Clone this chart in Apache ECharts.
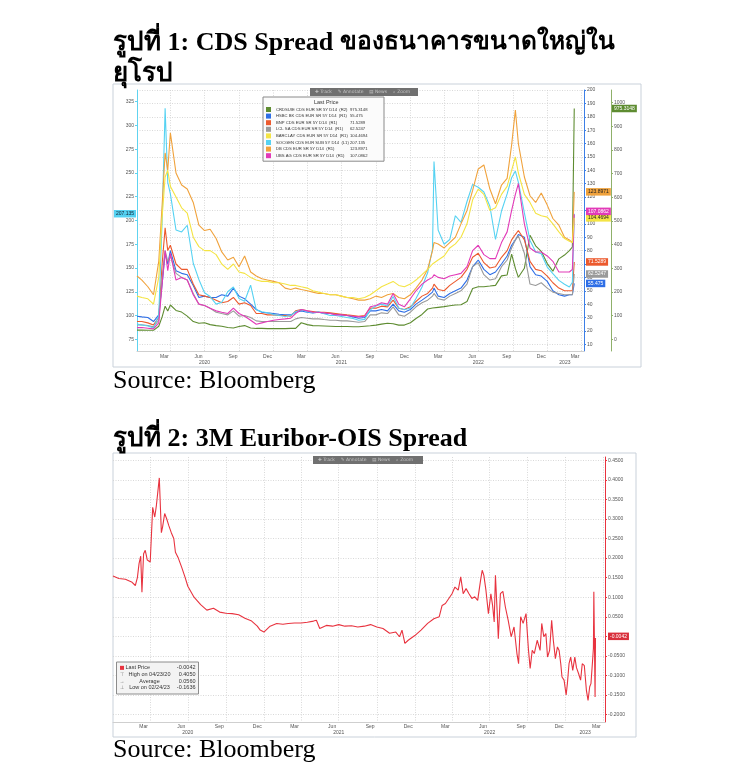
<!DOCTYPE html>
<html><head><meta charset="utf-8">
<script src="https://cdn.jsdelivr.net/npm/echarts@6/dist/echarts.min.js"></script>
<style>html,body{margin:0;padding:0;background:#fff;}#c{width:750px;height:778px;}</style>
</head><body><div id="c"></div>
<script>
// ---------- Figure 1 data: CDS spreads ----------
const cdsDates = ['2020-01-03','2020-01-16','2020-02-01','2020-02-16','2020-03-01','2020-03-10','2020-03-18','2020-03-25','2020-04-01','2020-04-16',
'2020-05-01','2020-05-16','2020-06-01','2020-06-16','2020-07-01','2020-07-16','2020-08-01','2020-08-16','2020-09-01','2020-09-16',
'2020-10-01','2020-10-16','2020-11-01','2020-11-16','2020-12-01','2020-12-16','2021-01-01','2021-01-16','2021-02-01','2021-02-16',
'2021-03-01','2021-03-16','2021-04-01','2021-04-16','2021-05-01','2021-05-16','2021-06-01','2021-06-16','2021-07-01','2021-07-16',
'2021-08-01','2021-08-16','2021-09-01','2021-09-16','2021-10-01','2021-10-16','2021-11-01','2021-11-16','2021-12-01','2021-12-16',
'2022-01-01','2022-01-16','2022-02-01','2022-02-16','2022-03-01','2022-03-05','2022-03-16','2022-04-01','2022-04-16','2022-05-01',
'2022-05-16','2022-06-01','2022-06-16','2022-07-01','2022-07-16','2022-08-01','2022-08-16','2022-09-01','2022-09-16','2022-09-28',
'2022-10-08','2022-10-16','2022-11-01','2022-11-16','2022-12-01','2022-12-16','2023-01-01','2023-01-16','2023-02-01','2023-02-16',
'2023-03-01','2023-03-09','2023-03-14'];
const crdsuie = [39,39,38,38,55,95,140,120,145,122, 115,98,75,68,70,62,58,55,50,48, 54,58,48,46,46,45,45,45,45,46,
 46,70,62,58,57,56,55,54,54,54, 53,53,55,57,60,64,68,66,60,60, 70,88,105,128,132,130,135,138,142,145,
 146,160,215,222,222,225,228,268,272,360, 300,262,300,440,395,372,320,288,340,356, 375,390,975.3148];
const hsbc = [31,30.5,30,27,32,55,78,70,80,65, 63,62,54,45,46,45,45,47,46,52, 46,44,40,36,34,33.5,33,32.5,32,32,
 34,35,34,33.5,34,33,33,32.5,32,31.5, 30.5,29.5,30,35,35,36,35,40,35,34, 36,40,43,46,49,52,46,45,48,50,
 52,58,68,73,66,62,64,70,76,84, 88,92,90,68,62,61,57,50,47,46, 47,47,55.475];
const bnp = [27,27,26,24.5,30,70,97,80,84,70, 66,66,55,47,46,45,43,41,42,45, 40,41,39,33,33,32,32,31.5,31.5,31,
 35,36,35,34.5,34,34,33.5,33,32.5,32, 31.5,31,31.5,37,37,38.5,38,43,37,36, 38,42,46,48,52,55,51,50,54,57,
 60,66,75,78,71,67,68,75,80,88, 92,95,88,72,66,65,61,56,52,50, 50,50,71.5289];
const lcl = [24.5,24.5,24,23,28,60,80,72,76,63, 60,58,48,40,39,37,34,33,32,35, 31,31.5,30,27.5,27,27,27,27,27,27,
 29,30,29.5,29,29,28.5,28,28,27.5,27.5, 27,26.5,27,32,32,33.5,33,38,32,31, 34,38,41,43,46,48,44,43,46,48,
 50,55,68,71,62,58,59,68,73,82, 88,91,78,55,54,56,52,49,48,47, 47,47,62.5247];
const barclay = [46,45,44,40,60,105,135,140,128,120, 112,108,90,83,80,80,77,70,66,70, 64,63,60,58,57,57,56,56,55,54,
 54,53,52,50,49,48,47,47,46,45, 45,44,45,47,50,53,55,57,54,53, 55,58,62,66,70,71,73,76,82,85,
 90,100,118,126,122,110,112,122,128,140, 150,138,122,116,108,106,105,100,94,89, 87,86,104.4694];
const socgen = [91,90,89,87,100,200,318,240,228,190, 188,195,155,138,124,120,112,114,125,130, 118,115,132,106,104,103,101,100,99,100,
 104,106,104,103,104,102,100,100,99,98, 97,95,96,106,110,112,110,120,108,106, 108,118,130,145,170,262,190,175,180,205,
 198,220,238,235,230,215,180,210,228,245, 252,240,208,179,167,165,151,144,137,133, 130,135,207.135];
const db = [61,58,53,47,72,114,153,140,168,138, 129,126,116,99,95,96,89,79,73,75, 68,76,64,61,59,58,57,56,52,51,
 52,51,50,49,48,48,47,47,46,45, 44,43,43,44,46,45,47,48,45,44, 47,52,58,66,80,86,85,82,86,90,
 100,110,125,141,144,126,115,129,134,159, 185,160,135,121,116,123,114,104,99,90, 88,86,123.8971];
const ubs = [22.5,22.5,22,21.5,26,55,80,65,78,58, 60,58,47,40,39,37,35,34,33,37, 33,31,28,25,26,27,28,28.5,29,29.5,
 33,36,35,34,34,33.5,33,32,32,31.5, 31,30.5,31,38,39,41,40,48,40,38, 44,50,55,58,60,62,60,59,61,62,
 63,68,80,84,77,74,74,86,94,110, 122,130,100,82,79,79,76,72,64,64, 64,66,107.0862];

// ---------- Figure 2 data: 3M Euribor-OIS spread ----------
const euriborDates = ['2020-01-02','2020-01-16','2020-02-01','2020-02-16','2020-02-25','2020-03-01','2020-03-05','2020-03-09','2020-03-12','2020-03-16',
'2020-03-20','2020-03-25','2020-04-01','2020-04-07','2020-04-12','2020-04-16','2020-04-23','2020-04-28','2020-05-01','2020-05-06',
'2020-05-11','2020-05-16','2020-05-22','2020-05-28','2020-06-01','2020-06-08','2020-06-16','2020-06-24','2020-07-01','2020-07-16',
'2020-08-01','2020-08-16','2020-09-01','2020-09-16','2020-10-01','2020-10-16','2020-11-01','2020-11-16','2020-12-01','2020-12-16',
'2020-12-23','2021-01-01','2021-01-16','2021-02-01','2021-02-16','2021-03-01','2021-03-16','2021-04-01','2021-04-16','2021-05-01',
'2021-05-08','2021-05-16','2021-06-01','2021-06-16','2021-07-01','2021-07-16','2021-08-01','2021-08-16','2021-09-01','2021-09-16',
'2021-10-01','2021-10-16','2021-11-01','2021-11-16','2021-11-25','2021-12-01','2021-12-08','2021-12-16','2022-01-01','2022-01-16',
'2022-02-01','2022-02-16','2022-03-01','2022-03-08','2022-03-16','2022-04-01','2022-04-08','2022-04-16','2022-04-22','2022-04-28',
'2022-05-05','2022-05-12','2022-05-19','2022-05-26','2022-06-02','2022-06-09','2022-06-13','2022-06-17','2022-06-22','2022-06-28',
'2022-07-04','2022-07-08','2022-07-12','2022-07-15','2022-07-19','2022-07-22','2022-07-27','2022-08-02','2022-08-08','2022-08-15',
'2022-08-22','2022-08-29','2022-09-05','2022-09-09','2022-09-14','2022-09-20','2022-09-27','2022-10-03','2022-10-07','2022-10-12',
'2022-10-17','2022-10-24','2022-10-31','2022-11-04','2022-11-09','2022-11-14','2022-11-18','2022-11-23','2022-11-28','2022-12-02',
'2022-12-07','2022-12-12','2022-12-16','2022-12-20','2022-12-23','2022-12-28','2023-01-02','2023-01-05','2023-01-09','2023-01-13',
'2023-01-18','2023-01-23','2023-01-27','2023-02-01','2023-02-06','2023-02-10','2023-02-15','2023-02-20','2023-02-24','2023-02-28',
'2023-03-03','2023-03-07','2023-03-09','2023-03-10','2023-03-13','2023-03-14'];
const euriborOis = [0.154,0.148,0.146,0.139,0.130,0.150,0.186,0.205,0.113,0.211,
 0.220,0.195,0.190,0.330,0.305,0.335,0.405,0.265,0.280,0.314,
 0.300,0.283,0.265,0.250,0.215,0.200,0.177,0.152,0.128,0.100,
 0.081,0.067,0.072,0.062,0.059,0.058,0.055,0.046,0.040,0.026,
 0.016,0.011,0.026,0.033,0.031,0.033,0.034,0.034,0.036,0.039,
 0.041,0.020,0.028,0.026,0.030,0.026,0.027,0.024,0.026,0.030,
 0.024,0.020,0.008,0.011,-0.001,0.016,-0.018,-0.010,0.002,0.016,
 0.033,0.045,0.050,0.079,0.084,0.109,0.126,0.118,0.152,0.109,
 0.122,0.109,0.097,0.101,0.092,0.143,0.169,0.156,0.118,0.058,
 0.109,0.080,0.037,0.156,0.067,-0.006,0.109,0.115,0.075,0.040,
 -0.001,0.024,-0.044,-0.070,0.050,0.033,0.058,-0.036,-0.082,-0.036,
 -0.044,-0.010,-0.036,0.033,-0.001,0.007,-0.053,-0.036,0.041,-0.010,
 -0.057,-0.027,-0.036,-0.070,-0.104,-0.112,-0.150,-0.121,-0.070,-0.053,
 -0.087,-0.053,-0.080,-0.095,-0.112,-0.070,-0.075,-0.138,-0.1636,-0.129,
 -0.121,-0.061,-0.030,0.114,-0.155,-0.0042];

// ---------- axis ticks / labels ----------
const monthNames = ['Jan','Feb','Mar','Apr','May','Jun','Jul','Aug','Sep','Oct','Nov','Dec'];
const monthLabelDates = ['2020-03-16','2020-06-15','2020-09-15','2020-12-16','2021-03-16','2021-06-15','2021-09-15','2021-12-16',
 '2022-03-16','2022-06-15','2022-09-15','2022-12-16','2023-03-16'];
const quarterLineDates = ['2020-04-01','2020-07-01','2020-10-01','2021-01-01','2021-04-01','2021-07-01','2021-10-01','2022-01-01',
 '2022-04-01','2022-07-01','2022-10-01','2023-01-01','2023-04-01'];
const yearLabelDates = ['2020-07-01','2021-07-01','2022-07-01','2023-02-17'];
const leftTicks = [75,100,125,150,175,200,225,250,275,300,325];
const r1Ticks = [10,20,30,40,50,60,70,80,90,100,110,120,130,140,150,160,170,180,190,200];
const r2Ticks = [0,100,200,300,400,500,600,700,800,900,1000];
const euriborTicks = [-0.20,-0.15,-0.10,-0.05,0,0.05,0.10,0.15,0.20,0.25,0.30,0.35,0.40,0.45];

// ---------- build ----------
const ts = s => Date.parse(s + 'T00:00:00Z');
const SANS = "'Liberation Sans', Arial, sans-serif";
const SERIF = "'Liberation Serif', 'Times New Roman', serif";
const gridLine = {show:true, lineStyle:{color:'#cfcfcf', type:[1,1.5], width:0.8}};
const lab = {fontSize:5, color:'#555', fontFamily:SANS};

const cdsDefs = [
 {name:'CRDSUIE CDS EUR SR 5Y D14  (R2)', data:crdsuie, y:2, color:'#5e8c31', txt:'#fff', dist:28},
 {name:'HSBC BK CDS EUR SR 5Y D14  (R1)', data:hsbc, y:1, color:'#2e6ee6', txt:'#fff', dist:2},
 {name:'BNP CDS EUR SR 5Y D14  (R1)', data:bnp, y:1, color:'#ec5a2e', txt:'#fff', dist:2},
 {name:'LCL SA CDS EUR SR 5Y D14  (R1)', data:lcl, y:1, color:'#9a9a9a', txt:'#fff', dist:2},
 {name:'BARCLAY CDS EUR SR 5Y D14  (R1)', data:barclay, y:1, color:'#f4e444', txt:'#222', dist:2, z:4},
 {name:'SOCGEN CDS EUR SUB 5Y D14  (L1)', data:socgen, y:0, color:'#55d2f2', txt:'#123', dist:1, start:true},
 {name:'DB CDS EUR SR 5Y D14  (R1)', data:db, y:1, color:'#f0a23c', txt:'#222', dist:2},
 {name:'UBS AG CDS EUR SR 5Y D14  (R1)', data:ubs, y:1, color:'#e23ab8', txt:'#fff', dist:2, off:-3, z:3}
];

const series = cdsDefs.map(d => {
  const last = d.data[d.data.length-1];
  return {
    type:'line', name:d.name, xAxisIndex:0, yAxisIndex:d.y, z:d.z || 3,
    data: cdsDates.map((t,i) => [ts(t), d.data[i]]),
    showSymbol:false, symbol:'none', animation:false,
    lineStyle:{width:1.1, color:d.color}, itemStyle:{color:d.color},
    markLine:{silent:true, symbol:'none', animation:false, lineStyle:{color:'rgba(0,0,0,0)', width:0.1, type:'solid'},
      data:[{yAxis:last}],
      label:{show:true, position:d.start ? 'start' : 'end', distance:d.dist, formatter:String(last),
        backgroundColor:d.color, color:d.txt, fontSize:5, fontFamily:SANS, padding:[1.5,2,1,2],
        offset:[0, d.off || 0]}}
  };
});
const lastEur = euriborOis[euriborOis.length-1];
series.push({
  type:'line', name:'3M Euribor-OIS', xAxisIndex:2, yAxisIndex:3,
  data: euriborDates.map((t,i) => [ts(t), euriborOis[i]]),
  showSymbol:false, symbol:'none', animation:false,
  lineStyle:{width:1.1, color:'#e8333f'}, itemStyle:{color:'#e8333f'},
  markLine:{silent:true, symbol:'none', animation:false, lineStyle:{color:'rgba(0,0,0,0)', width:0.1, type:'solid'},
    data:[{yAxis:lastEur}],
    label:{show:true, position:'end', distance:3, formatter:lastEur.toFixed(4),
      backgroundColor:'#d9303c', color:'#fff', fontSize:5, fontFamily:SANS, padding:[1.5,2,1,2]}}
});

const monthFmt = v => monthNames[new Date(v).getUTCMonth()];
const yearFmt = v => String(new Date(v).getUTCFullYear());
function xAxes(grid, minD, maxD, mMargin, yMargin) {
  return [
    {gridIndex:grid, type:'value', min:ts(minD), max:ts(maxD),
     axisLine:{show:true, onZero:false, lineStyle:{color:'#cfcfcf'}},
     axisTick:{show:false, customValues:quarterLineDates.map(ts)},
     axisLabel:Object.assign({customValues:monthLabelDates.map(ts), formatter:monthFmt, margin:mMargin, showMinLabel:true, showMaxLabel:true}, lab),
     splitLine:gridLine},
    {gridIndex:grid, type:'value', min:ts(minD), max:ts(maxD), position:'bottom',
     axisLine:{show:false, onZero:false}, axisTick:{show:false}, splitLine:{show:false},
     axisLabel:Object.assign({customValues:yearLabelDates.map(ts), formatter:yearFmt, margin:yMargin, showMinLabel:true, showMaxLabel:true}, lab)}
  ];
}

const titleRich = {
  a:{fontFamily:SERIF, fontWeight:'bold', fontSize:26, lineHeight:31, color:'#000'},
  b:{fontFamily:SERIF, fontWeight:'bold', fontSize:26, lineHeight:31, color:'#000'},
  c:{fontFamily:SERIF, fontWeight:'bold', fontSize:24.5, lineHeight:31, color:'#000'}
};
const legendNames = cdsDefs.map(d => d.name);
const option = {
  backgroundColor:'#ffffff',
  animation:false,
  title:[
    {text:'{a|รูปที่ }{b|1: CDS Spread }{c|ของธนาคารขนาดใหญ่ใน}\n{a|ยุโรป}', left:113, top:27.5, padding:0,
     textStyle:{fontFamily:SERIF, fontWeight:'bold', fontSize:26, lineHeight:31, color:'#000', rich:titleRich}},
    {text:'Source: Bloomberg', left:113, top:368, padding:0,
     textStyle:{fontFamily:SERIF, fontWeight:'normal', fontSize:26, lineHeight:26, color:'#000'}},
    {text:'รูปที่ 2: 3M Euribor-OIS Spread', left:113, top:426, padding:0,
     textStyle:{fontFamily:SERIF, fontWeight:'bold', fontSize:26, lineHeight:26, color:'#000'}},
    {text:'Source: Bloomberg', left:113, top:737, padding:0,
     textStyle:{fontFamily:SERIF, fontWeight:'normal', fontSize:26, lineHeight:26, color:'#000'}},
    {text:'Last Price', left:314, top:99.5, padding:0, z:20,
     textStyle:{fontFamily:SANS, fontWeight:'normal', fontSize:5.5, color:'#333'}},
    {text:'{sq|} {n|Last Price}{v|' + lastEur.toFixed(4) + '}\n{i|⊤} {n|High on 04/23/20}{v|0.4050}\n{i|→} {n|Average}{v|0.0560}\n{i|⊥} {n|Low on 02/24/23}{v|-0.1636}',
     left:117, top:662, padding:[2.5,3,2.5,3], backgroundColor:'#f3f3f3', borderColor:'#8c8c8c', borderWidth:1, z:20,
     textStyle:{fontFamily:SANS, fontSize:5.5, fontWeight:'normal', color:'#333', lineHeight:6.7,
       rich:{sq:{width:4, height:4, backgroundColor:'#e8333f'},
             i:{width:4, fontSize:5, color:'#777', align:'center', lineHeight:6.7},
             n:{width:48, fontSize:5.5, color:'#333', lineHeight:6.7},
             v:{width:22, fontSize:5.5, color:'#333', align:'right', lineHeight:6.7}}}}
  ],
  legend:{show:true, data:legendNames, orient:'vertical', left:263, top:97, padding:[10,4,3,3],
    itemGap:1.6, itemWidth:5, itemHeight:5, icon:'rect', selectedMode:false,
    backgroundColor:'#fbfbfb', borderColor:'#8a8a8a', borderWidth:1,
    formatter: name => {
      const d = cdsDefs.find(x => x.name === name);
      return '{n|' + name + '}{v|' + d.data[d.data.length-1] + '}';
    },
    textStyle:{fontSize:4.2, fontFamily:SANS, color:'#333',
      rich:{n:{width:74, fontSize:4.2, lineHeight:5, color:'#333'}, v:{width:30, fontSize:4.2, lineHeight:5, color:'#333'}}}},
  grid:[
    {left:137, top:90, width:447, height:261},
    {left:113, top:457, width:492, height:265}
  ],
  xAxis: xAxes(0, '2020-01-03', '2023-04-09', 3, 9).concat(xAxes(1, '2020-01-02', '2023-04-06', 2.5, 8.5)),
  yAxis:[
    {gridIndex:0, type:'value', position:'left', min:62.7, max:337.3,
     axisLine:{show:true, onZero:false, lineStyle:{color:'#5fd3f0'}},
     axisTick:{show:true, length:2, customValues:leftTicks, lineStyle:{color:'#5fd3f0'}},
     axisLabel:Object.assign({customValues:leftTicks, margin:3, formatter:v => String(v)}, lab), splitLine:{show:false}},
    {gridIndex:0, type:'value', position:'right', min:5, max:200,
     axisLine:{show:true, onZero:false, lineStyle:{color:'#3d7fe6'}},
     axisTick:{show:true, length:2, customValues:r1Ticks, lineStyle:{color:'#3d7fe6'}},
     axisLabel:Object.assign({customValues:r1Ticks, margin:3, formatter:v => String(v)}, lab), splitLine:gridLine},
    {gridIndex:0, type:'value', position:'right', offset:27, min:-49.4, max:1053.5,
     axisLine:{show:true, onZero:false, lineStyle:{color:'#8fb06a'}},
     axisTick:{show:true, length:2, customValues:r2Ticks, lineStyle:{color:'#8fb06a'}},
     axisLabel:Object.assign({customValues:r2Ticks, margin:3, formatter:v => String(v)}, lab), splitLine:{show:false}},
    {gridIndex:1, type:'value', position:'right', min:-0.219, max:0.4585,
     axisLine:{show:true, onZero:false, lineStyle:{color:'#e8333f'}},
     axisTick:{show:true, length:2, customValues:euriborTicks, lineStyle:{color:'#e8333f'}},
     axisLabel:Object.assign({customValues:euriborTicks, margin:3, formatter: v => v.toFixed(4)}, lab),
     splitLine:gridLine}
  ],
  graphic:[
    {type:'rect', silent:true, z:-10, shape:{x:113, y:84, width:528, height:283}, style:{fill:'none', stroke:'#c9d1da', lineWidth:1}},
    {type:'rect', silent:true, z:-10, shape:{x:113, y:453, width:523, height:284}, style:{fill:'none', stroke:'#c9d1da', lineWidth:1}},
    {type:'rect', silent:true, z:50, shape:{x:310, y:88, width:108, height:8}, style:{fill:'#707070'}},
    {type:'text', silent:true, z:51, x:315, y:92, style:{text:'✚ Track    ✎ Annotate    ▤ News    ⌕ Zoom', fill:'#c4c4c4', fontSize:4.5, fontFamily:"'DejaVu Sans', sans-serif", verticalAlign:'middle'}},
    {type:'rect', silent:true, z:50, shape:{x:313, y:456, width:110, height:8}, style:{fill:'#707070'}},
    {type:'text', silent:true, z:51, x:318, y:460, style:{text:'✚ Track    ✎ Annotate    ▤ News    ⌕ Zoom', fill:'#c4c4c4', fontSize:4.5, fontFamily:"'DejaVu Sans', sans-serif", verticalAlign:'middle'}}
  ],
  series: series
};
const chart = echarts.init(document.getElementById('c'), null, {renderer:'canvas', width:750, height:778});
chart.setOption(option);
</script>
</body></html>
